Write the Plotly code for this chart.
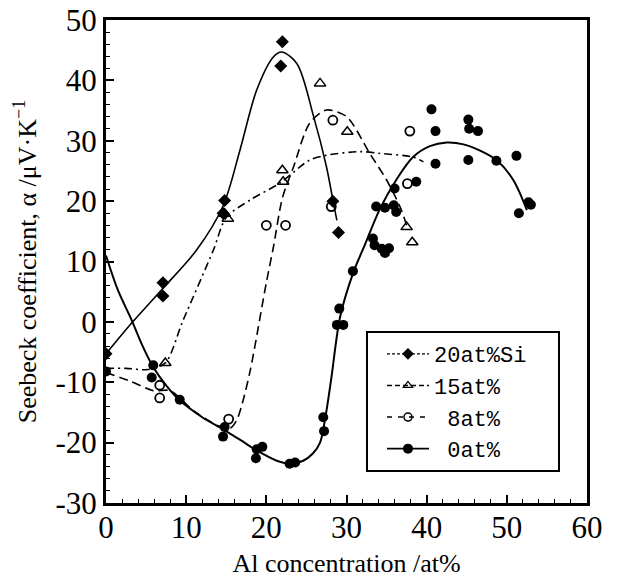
import plotly.graph_objects as go

# ---- measured data (markers) ----
si20_x = [0, 7.1, 7.1, 14.8, 14.6, 22.0, 21.8, 28.3, 29.0]
si20_y = [-5.3, 6.5, 4.3, 20.1, 18.0, 46.4, 42.4, 20.0, 14.8]

al15_x = [7.4, 14.8, 15.2, 22.0, 22.1, 26.7, 30.1, 37.5, 38.2]
al15_y = [-6.8, 17.9, 17.1, 25.1, 23.2, 39.5, 31.5, 15.7, 13.2]

al8_x = [6.7, 6.7, 15.3, 20.0, 22.4, 28.3, 28.1, 37.9, 37.6]
al8_y = [-10.5, -12.6, -16.1, 16.0, 16.0, 33.4, 19.1, 31.6, 22.9]

al0_x = [0, 5.9, 5.7, 9.2, 14.8, 14.6, 18.8, 19.5, 18.7, 22.9, 23.6, 27.1, 27.2,
         29.1, 28.8, 29.6, 30.8, 33.3, 33.5, 34.4, 34.8, 35.3, 33.7, 34.8, 35.9,
         36.2, 36.0, 38.7, 40.6, 41.1, 45.2, 45.3, 46.4, 41.1, 45.2, 48.7, 51.2,
         52.7, 53.0, 51.5]
al0_y = [-8.2, -7.2, -9.2, -12.9, -17.4, -19.0, -21.1, -20.7, -22.6, -23.5, -23.3,
         -15.8, -18.1, 2.2, -0.5, -0.5, 8.4, 13.8, 12.7, 12.1, 11.4, 12.2, 19.1,
         18.9, 19.3, 18.2, 22.1, 23.2, 35.2, 31.6, 33.5, 32.0, 31.6, 26.2, 26.8,
         26.7, 27.5, 19.8, 19.4, 18.0]

# ---- hand-drawn guide curves ----
si20_cx = [0, 3.2, 7.0, 11.3, 14.6, 16.7, 18.8, 20.9, 21.9, 23.8, 25.9, 27.5, 28.3, 28.8]
si20_cy = [-5.3, -0.2, 5.4, 11.9, 19.2, 28.4, 38.4, 43.9, 44.7, 42.8, 34.0, 25.7, 20.2, 16.8]

al15_cx = [0, 2.5, 5.2, 7.4, 9.6, 13.4, 15.0, 18.0, 21.7, 25.4, 27.5, 31.7, 34.2, 38.3, 39.6]
al15_cy = [-7.7, -7.7, -7.9, -6.8, 0.2, 11.9, 17.3, 20.2, 23.0, 26.8, 27.6, 28.2, 27.9, 27.3, 26.5]

al8_cx = [0, 3.0, 5.9, 8.0, 11.0, 14.0, 15.5, 16.3, 17.0, 18.0, 20.0, 20.9, 22.0,
          23.4, 25.4, 27.5, 30.0, 32.9, 35.0, 36.7, 37.7]
al8_cy = [-8.4, -9.8, -11.4, -11.4, -14.8, -17.2, -17.6, -16.3, -13.5, -8.0, 6.5,
          12.5, 20.5, 25.7, 32.9, 35.1, 34.0, 27.9, 23.5, 19.0, 15.2]

al0_cx = [0, 1.5, 3.2, 4.5, 5.9, 7.5, 9.2, 12, 14.6, 16.8, 18.8, 21.3, 23.0, 24.6,
          25.8, 26.7, 27.4, 28.1, 29.2, 30.8, 32.3, 34.2, 36.2, 38.3, 40.4, 42.5,
          44.6, 46.6, 48.7, 50.8, 52.5]
al0_cy = [11, 5.2, 0.3, -3.8, -7.5, -10.5, -13.0, -15.8, -17.8, -19.6, -21.3, -23.0,
          -23.5, -23.0, -21.8, -20.0, -15.5, -9.4, 0.8, 8.0, 12.8, 18.8, 23.5, 27.3,
          29.1, 29.7, 29.4, 28.4, 26.8, 23.5, 18.5]

y_tickvals = [-30, -20, -10, 0, 10, 20, 30, 40, 50]
y_ticktext = ["-30", "-20", "-10", "0", "10", "20", "30", "40", "50"]
x_tickvals = [0, 10, 20, 30, 40, 50, 60]
x_ticktext = ["0", "10", "20", "30", "40", "50", "60"]

legend_names = ["20at%Si\u00a0\u00a0", "15at%", "\u00a08at%", "\u00a00at%"]

fig = go.Figure()

# curves
fig.add_trace(go.Scatter(x=si20_cx, y=si20_cy, mode="lines", showlegend=False,
                         line=dict(color="black", width=1.6, shape="spline", smoothing=0.9)))
fig.add_trace(go.Scatter(x=al15_cx, y=al15_cy, mode="lines", showlegend=False,
                         line=dict(color="black", width=1.6, shape="spline", smoothing=0.8,
                                   dash="8px,4px,2px,4px")))
fig.add_trace(go.Scatter(x=al8_cx, y=al8_cy, mode="lines", showlegend=False,
                         line=dict(color="black", width=1.6, shape="spline", smoothing=0.8,
                                   dash="9px,5px")))
fig.add_trace(go.Scatter(x=al0_cx, y=al0_cy, mode="lines", showlegend=False,
                         line=dict(color="black", width=2, shape="spline", smoothing=0.9)))

# markers
fig.add_trace(go.Scatter(x=si20_x, y=si20_y, mode="markers", showlegend=False,
                         marker=dict(symbol="diamond", size=10, color="black")))
fig.add_trace(go.Scatter(x=al15_x, y=al15_y, mode="markers", showlegend=False,
                         marker=dict(symbol="triangle-up-open", size=10, color="black",
                                     line=dict(width=1.5))))
fig.add_trace(go.Scatter(x=al8_x, y=al8_y, mode="markers", showlegend=False,
                         marker=dict(symbol="circle-open", size=9, color="black",
                                     line=dict(width=1.8))))
fig.add_trace(go.Scatter(x=al0_x, y=al0_y, mode="markers", showlegend=False,
                         marker=dict(symbol="circle", size=10, color="black")))

# legend entries
leg_styles = [
    (legend_names[0], "3px,2px", dict(symbol="diamond", size=9, color="black"), 1.2),
    (legend_names[1], "5px,3px", dict(symbol="triangle-up-open", size=8, color="black",
                                       line=dict(width=1.3)), 1.4),
    (legend_names[2], "5px,6px", dict(symbol="circle-open", size=8, color="black",
                                       line=dict(width=1.5)), 1.6),
    (legend_names[3], "solid", dict(symbol="circle", size=10, color="black"), 1.8),
]
for name, dash, mk, w in leg_styles:
    fig.add_trace(go.Scatter(x=[None], y=[None], mode="lines+markers", name=name,
                             line=dict(color="black", width=w, dash=dash), marker=mk))

serif = "Liberation Serif, Times New Roman, serif"
axis_common = dict(
    showgrid=False, zeroline=False, showline=True, linecolor="black", linewidth=3,
    mirror=True, ticks="inside", ticklen=8, tickwidth=1.5, tickcolor="black",
    tickfont=dict(family=serif, size=31, color="black"), automargin=False,
    ticklabeloverflow="allow",
    minor=dict(ticks="inside", ticklen=4, tickwidth=1, tickcolor="black", dtick=2),
)
fig.update_xaxes(range=[0, 60], tickmode="array", tickvals=x_tickvals, ticktext=x_ticktext,
                 ticklabelstandoff=-5,
                 title=dict(text="Al concentration /at%", font=dict(family=serif, size=26, color="black"),
                            standoff=10),
                 **axis_common)
fig.update_yaxes(range=[-30, 50], tickmode="array", tickvals=y_tickvals, ticktext=y_ticktext,
                 title=dict(text="Seebeck coefficient, α /μV·K<sup>−1</sup>",
                            font=dict(family=serif, size=26, color="black"), standoff=12),
                 **axis_common)

fig.update_layout(
    width=633, height=581,
    margin=dict(l=106, r=46, t=20, b=78),
    plot_bgcolor="white", paper_bgcolor="white",
    legend=dict(x=0.5405, y=0.356, xanchor="left", yanchor="top",
                bgcolor="white", bordercolor="black", borderwidth=2,
                font=dict(family="Liberation Mono, Courier New, monospace", size=22, color="black"),
                itemwidth=42, indentation=14, tracegroupgap=0),
)

fig.write_html("out.html", config={"displayModeBar": False},
               post_script="document.body.style.margin='0';")
